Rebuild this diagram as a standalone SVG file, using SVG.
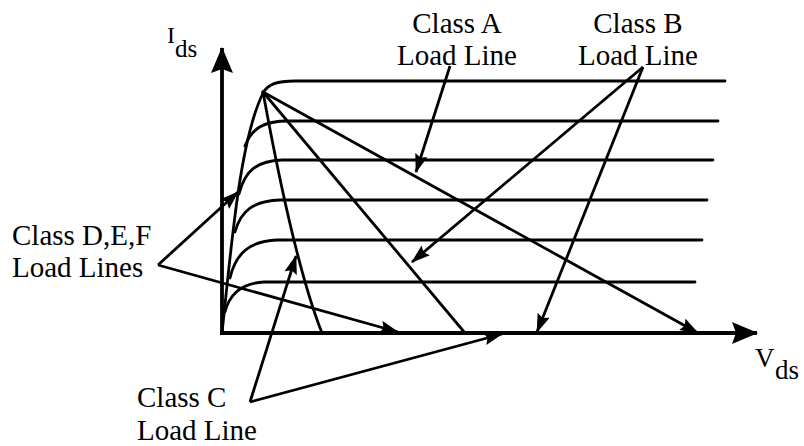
<svg xmlns="http://www.w3.org/2000/svg" width="804" height="446" viewBox="0 0 804 446">
<style>
.curve{fill:none;stroke:#000;stroke-width:2.8;stroke-linecap:round;stroke-linejoin:round}
.axis{fill:none;stroke:#000;stroke-width:3.8}
.ptr{fill:none;stroke:#000;stroke-width:2.8;marker-end:url(#arr)}
text{font-family:"Liberation Serif","Times New Roman",serif;fill:#000}
.lbl{font-size:29px}
</style>
<defs>
<marker id="arr" markerUnits="userSpaceOnUse" markerWidth="19" markerHeight="13" refX="18" refY="6.5" orient="auto">
<path d="M0,0 L19,6.5 L0,13 L3,6.5 z" fill="#000"/>
</marker>
<marker id="axarr" markerUnits="userSpaceOnUse" markerWidth="26" markerHeight="22" refX="25" refY="11" orient="auto">
<path d="M0,0 L26,11 L0,22 L4,11 z" fill="#000"/>
</marker>
</defs>
<g id="axes">
<line class="axis" x1="222" y1="335" x2="222" y2="48" marker-end="url(#axarr)"/>
<line class="axis" x1="220" y1="333" x2="757" y2="333" marker-end="url(#axarr)"/>
<text x="167" y="43" style="font-size:24px">I</text>
<text x="175" y="57" style="font-size:25px">ds</text>
<text x="755" y="367" style="font-size:27px">V</text>
<text x="775" y="379" style="font-size:27px">ds</text>
</g>
<g id="characteristics">
<path class="curve" d="M222,333 C232,240 240,140 263,93 C268,84 277,81 295,81 L725,81"/>
<path class="curve" d="M245,146 C252,128 264,121 288,121 L718,121"/>
<path class="curve" d="M239,194 C245,170 257,161 282,160 L713,160"/>
<path class="curve" d="M235,232 C241,210 254,201 280,200 L707,200"/>
<path class="curve" d="M230,278 C236,252 251,241 277,240 L702,240"/>
<path class="curve" d="M225,312 C230,292 243,283 264,282 L695,282"/>
</g>
<g id="load-lines">
<path class="curve" d="M263,92 Q294,262 322,333"/>
<path class="curve" d="M263,92 L465,333"/>
<path class="curve" d="M263,92 L698,333" marker-end="url(#arr)"/>
</g>
<g id="classA">
<text class="lbl" x="457" y="33" text-anchor="middle">Class A</text>
<text class="lbl" x="457" y="65" text-anchor="middle">Load Line</text>
</g>
<g id="classB">
<text class="lbl" x="638" y="33" text-anchor="middle">Class B</text>
<text class="lbl" x="638" y="65" text-anchor="middle">Load Line</text>
</g>
<g id="classDEF">
<text class="lbl" x="12" y="245">Class D,E,F</text>
<text class="lbl" x="12" y="277">Load Lines</text>
</g>
<g id="classC">
<text class="lbl" x="137" y="407">Class C</text>
<text class="lbl" x="137" y="440">Load Line</text>
</g>
<g id="connectors">
<line class="ptr" x1="450" y1="66" x2="416" y2="172"/>
<line class="ptr" x1="643" y1="67" x2="412" y2="262"/>
<line class="ptr" x1="643" y1="67" x2="537" y2="332"/>
<line class="ptr" x1="250" y1="402" x2="296" y2="256"/>
<line class="ptr" x1="250" y1="402" x2="502" y2="334"/>
<line class="ptr" x1="158" y1="265" x2="238" y2="192"/>
<line class="ptr" x1="158" y1="265" x2="398" y2="332"/>
</g>
</svg>
